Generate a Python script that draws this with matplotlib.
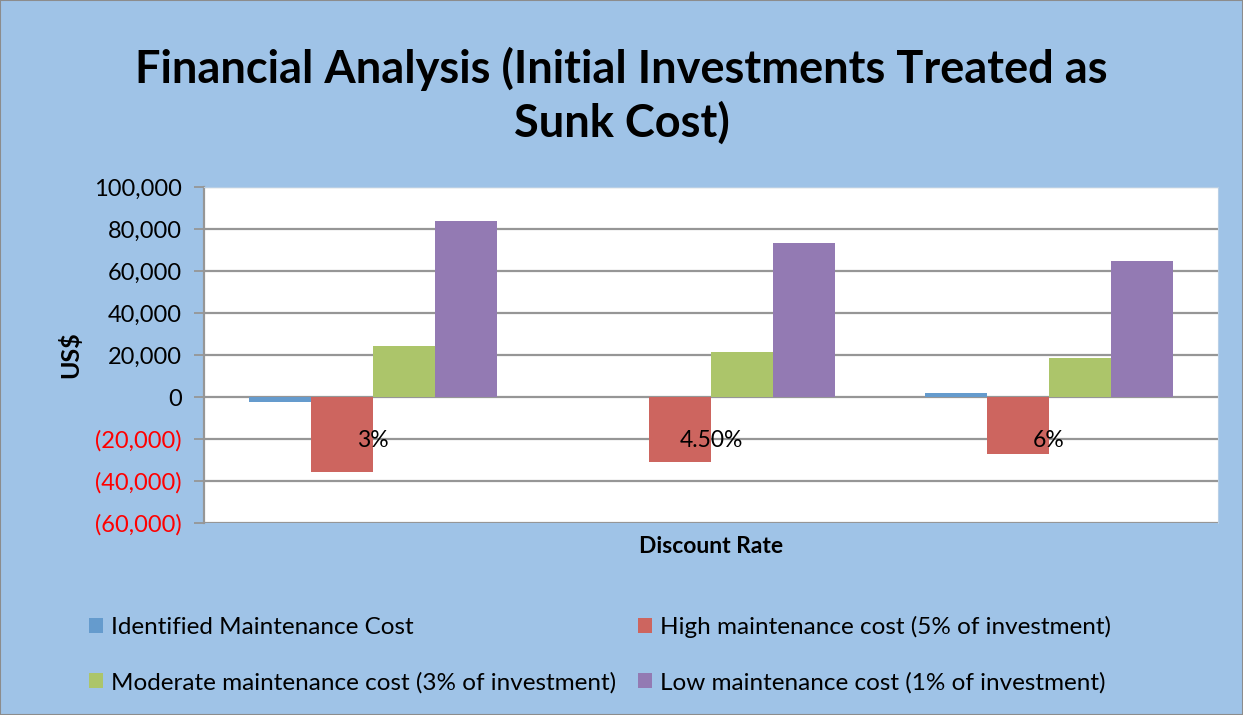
import matplotlib.pyplot as plt
import matplotlib.ticker as mticker
from matplotlib.patches import Rectangle
import numpy as np

plt.rcParams['font.family'] = ['Lato', 'DejaVu Sans']

# data
rates = ["3%", "4.50%", "6%"]
series_names = [
    "Identified Maintenance Cost",
    "High maintenance cost (5% of investment)",
    "Moderate maintenance cost (3% of investment)",
    "Low maintenance cost (1% of investment)",
]
identified = [-2500, 0, 1800]
high = [-35500, -31000, -27200]
moderate = [24300, 21300, 18800]
low = [83800, 73200, 64800]

colors = ["#659bcd", "#cd655f", "#acc56a", "#937ab3"]
bg = "#9fc3e7"

fig = plt.figure(figsize=(12.43, 7.15), dpi=100, facecolor=bg)
fig.patches.append(Rectangle((0, 0), 1, 1, transform=fig.transFigure,
                             fill=False, edgecolor="#8c8c8c", lw=1.5))
ax = fig.add_axes([0.164, 0.2685, 0.816, 0.47])
ax.set_facecolor("white")

x = np.arange(len(rates))
w = 0.183
all_series = [identified, high, moderate, low]
bars = []
for i, (vals, c) in enumerate(zip(all_series, colors)):
    b = ax.bar(x + (i - 1.5) * w, vals, w, color=c, linewidth=0,
               label=series_names[i], zorder=3)
    bars.append(b)

ax.set_xlim(-0.5, 2.5)
ax.set_ylim(-60000, 100000)
ax.yaxis.set_major_locator(mticker.MultipleLocator(20000))
ax.yaxis.set_major_formatter(mticker.FuncFormatter(
    lambda v, p: f"({abs(v):,.0f})" if v < 0 else f"{v:,.0f}"))
ax.grid(axis="y", color="#969696", lw=1.6, zorder=1)
ax.set_xticks([])
ax.tick_params(axis="y", length=7, width=1.3, color="#969696", labelsize=17, pad=9)
for lbl, v in zip(ax.get_yticklabels(), ax.get_yticks()):
    if v < 0:
        lbl.set_color("red")

for s in ["top", "right"]:
    ax.spines[s].set_color("#b8cfe6")
ax.spines["bottom"].set_visible(False)
ax.spines["left"].set_color("#969696")
ax.spines["left"].set_linewidth(1.6)

# category labels sit next to the zero line
for xi, r in zip(x, rates):
    ax.annotate(r, (xi, 0), xytext=(0, -24), textcoords="offset points",
                ha="center", va="top", fontsize=16.5, zorder=4)

ax.set_ylabel("US$", fontsize=18, fontweight="bold", labelpad=8)
ax.set_xlabel("Discount Rate", fontsize=16.5, fontweight="bold", labelpad=9)

fig.suptitle("Financial Analysis (Initial Investments Treated as\nSunk Cost)",
             fontsize=32.5, fontweight="bold", y=0.935, linespacing=1.3)

handles = [bars[0], bars[2], bars[1], bars[3]]
labels = [series_names[0], series_names[2], series_names[1], series_names[3]]
fig.legend(handles, labels, ncol=2, loc="upper left",
           bbox_to_anchor=(0.064, 1 - 606 / 715),
           bbox_transform=fig.transFigure, frameon=False, fontsize=17.5,
           handlelength=0.55, handleheight=0.55, handletextpad=0.35,
           columnspacing=0.9, labelspacing=1.4, borderaxespad=0)

fig.savefig("out.png", dpi=100, facecolor=bg)
